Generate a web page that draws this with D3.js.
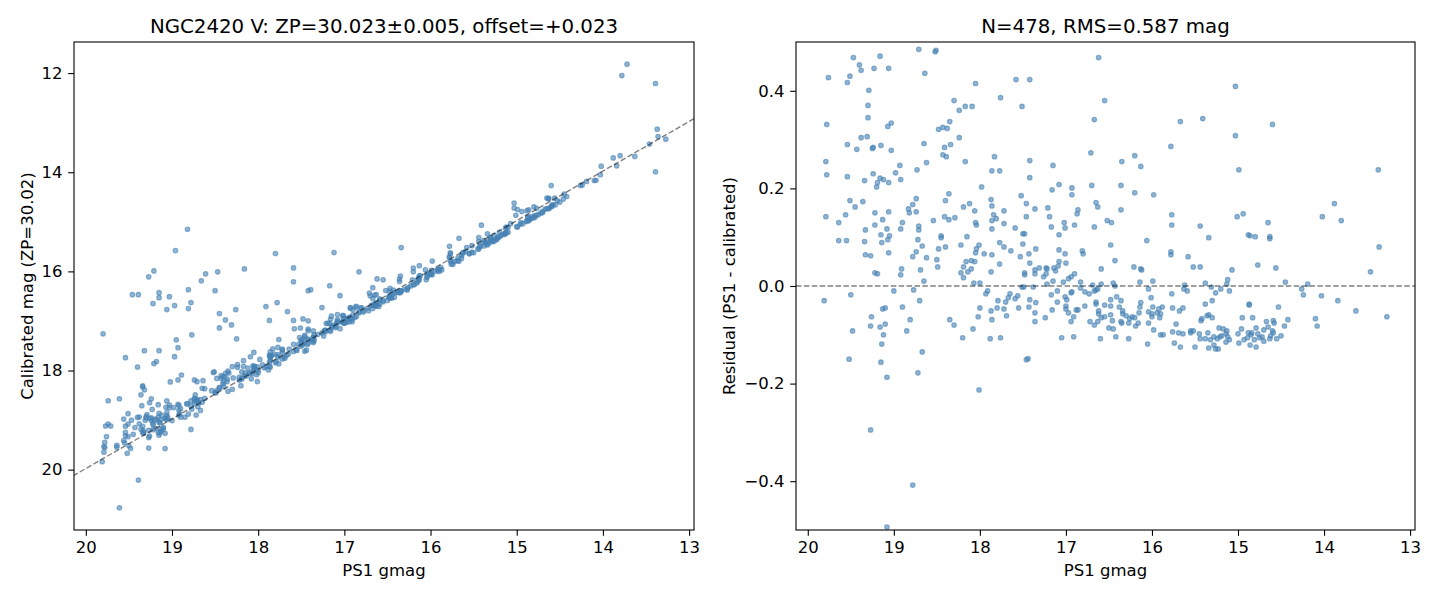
<!DOCTYPE html>
<html><head><meta charset="utf-8">
<script src="https://cdn.jsdelivr.net/npm/d3@7"></script>
<style>body{margin:0;background:#fff}svg text{font-family:"DejaVu Sans",sans-serif;fill:#000}</style>
</head><body><svg id="c" width="1440" height="600"></svg>
<script>
// ---- data: PS1 gmag and residual (PS1 - calibrated) per matched star ----
const gmag = [
18.71,18.52,18.51,19.47,19.16,19.40,19.38,19.23,19.06,19.76,
19.51,19.54,18.64,18.05,19.29,17.76,18.30,18.17,18.09,18.24,
19.30,19.30,19.78,19.03,19.07,18.35,18.48,18.43,18.38,18.24,
19.38,19.31,19.54,19.43,19.25,19.24,19.15,19.03,18.65,18.34,
18.41,18.43,18.39,19.79,18.62,18.17,17.83,19.78,19.54,19.34,
19.24,19.16,19.19,19.20,19.12,19.06,18.98,18.93,18.92,18.73,
17.86,17.77,17.98,18.36,18.40,18.74,18.78,18.83,18.82,18.74,
19.51,19.45,19.36,19.79,19.64,19.56,19.22,19.06,19.13,19.22,
19.33,19.08,19.15,19.05,19.07,19.14,19.34,19.64,19.55,18.90,
18.92,18.71,18.71,18.72,18.67,18.74,18.78,18.62,18.54,18.41,
18.36,18.29,18.19,18.12,18.06,18.05,18.04,18.45,18.45,18.40,
18.48,18.22,18.15,17.87,17.86,17.84,17.81,17.86,17.86,17.72,
17.72,17.77,17.72,18.01,18.04,18.05,17.95,17.86,18.06,18.10,
18.16,18.19,18.10,18.14,18.22,18.19,18.07,18.00,17.77,17.87,
18.50,18.49,18.69,18.65,18.91,18.92,19.22,19.19,19.33,19.27,
19.06,
19.81,19.50,19.00,18.77,18.70,18.90,19.13,19.10,19.26,19.27,
19.16,19.10,19.12,19.14,19.48,18.81,18.85,19.52,19.15,19.08,
18.67,18.72,19.27,18.78,19.08,18.35,18.30,18.20,18.08,18.02,
18.00,17.93,17.91,17.87,17.86,17.88,18.01,17.80,17.79,17.76,
17.72,
16.62,17.58,17.42,17.51,16.55,16.67,15.67,15.41,15.78,16.71,
17.42,17.15,16.35,16.20,16.13,17.42,17.16,17.08,16.93,16.93,
16.70,16.36,16.20,15.98,17.52,17.46,17.36,17.21,17.46,17.59,
17.19,17.17,17.02,17.01,16.87,16.86,16.90,16.65,16.63,16.67,
16.52,16.47,16.36,15.77,15.77,15.44,15.34,17.50,17.48,17.50,
17.64,17.53,17.43,17.35,17.08,17.08,17.01,16.81,16.80,16.48,
16.43,16.06,15.78,15.78,15.58,15.52,15.44,17.42,17.36,17.48,
17.48,17.36,17.31,17.23,17.22,17.14,17.12,17.09,17.08,17.00,
17.23,17.26,17.15,17.03,16.97,16.94,16.90,16.83,16.59,16.45,
16.21,16.13,16.12,16.14,15.99,15.62,15.38,17.51,17.38,16.69,
16.59,
17.49,17.22,16.83,16.93,16.94,16.78,16.73,16.67,16.65,16.63,
16.43,16.04,15.63,15.59,17.65,17.67,17.70,17.56,17.59,17.69,
17.55,17.42,17.43,17.35,17.36,17.36,17.24,17.17,17.10,17.10,
17.16,17.01,16.99,17.00,17.00,16.97,16.91,16.94,16.88,16.86,
16.78,17.05,16.91,17.46,17.44,16.72,16.67,16.63,16.65,16.65,
16.62,16.62,16.59,16.55,16.55,16.48,16.48,16.48,16.46,16.41,
16.36,16.38,16.34,16.34,16.36,16.35,16.50,16.45,16.60,16.42,
16.27,16.30,16.26,16.27,16.23,16.19,16.20,16.16,16.15,16.14,
16.13,16.04,16.04,16.05,15.98,16.01,15.99,16.00,16.00,15.94,
15.92,15.90,15.88,15.91,15.90,15.87,15.77,15.76,15.72,15.76,
15.74,15.67,15.68,15.64,15.69,15.64,15.55,15.52,15.55,15.50,
15.45,15.44,15.43,15.42,15.38,15.38,15.36,15.35,15.34,
15.03,14.60,15.03,14.99,13.37,13.88,15.01,14.94,14.02,13.80,
14.65,14.88,14.86,14.80,14.63,14.63,13.36,15.07,14.77,14.56,
13.46,15.12,15.13,14.45,14.19,15.31,15.20,14.26,
15.10,15.26,14.24,14.03,13.84,13.63,13.27,15.30,14.53,14.87,
14.87,15.34,15.30,14.95,14.83,14.67,14.59,14.58,14.42,14.46,
14.10,14.08,15.32,15.28,15.28,15.26,15.23,15.22,15.17,15.13,
15.14,15.19,15.21,15.12,15.10,15.14,15.24,15.00,14.99,14.96,
14.93,14.89,14.88,14.85,14.84,14.81,14.86,14.79,14.79,14.77,
14.75,14.72,14.70,14.70,14.65,14.62,14.63,14.60,14.59,14.55,
14.50,
18.82,18.96,17.80,19.27,19.21,19.46,19.39,19.15,19.15,19.22,
19.03,18.97,19.06,18.81,18.78,18.81,18.66,18.61,18.47,18.50,
18.16,18.26,18.45,18.38,18.31,18.45,18.25,17.91,17.78,17.87,
19.80,18.95,18.93,18.97,18.77,19.54,19.32,19.15,19.40,19.21,
19.18,18.89,18.93,19.02,18.74,19.34,19.34,19.32,19.36,19.74,
19.61,19.24,19.26,19.35,19.51,19.56,19.77,19.74,19.71,19.61,
19.39,17.12,17.59,17.59,16.83,16.34,17.42,17.39,17.17,17.05,
17.66,17.26,17.59,17.48,13.72,13.78,13.39,13.39
];
const residual = [
0.485,0.480,0.483,0.468,0.471,0.453,0.442,0.446,0.446,0.427,
0.430,0.417,0.436,0.415,0.401,0.386,0.380,0.368,0.368,0.360,
0.370,0.345,0.331,0.334,0.327,0.337,0.321,0.325,0.323,0.304,
0.304,0.306,0.290,0.280,0.282,0.284,0.288,0.278,0.292,0.290,
0.284,0.269,0.265,0.255,0.253,0.255,0.265,0.228,0.224,0.216,
0.230,0.221,0.212,0.203,0.218,0.212,0.232,0.247,0.218,0.238,
0.236,0.236,0.203,0.189,0.175,0.179,0.167,0.158,0.150,0.152,
0.175,0.162,0.173,0.142,0.130,0.146,0.150,0.152,0.136,0.125,
0.115,0.117,0.105,0.103,0.095,0.089,0.091,0.093,0.093,0.130,
0.117,0.123,0.115,0.095,0.082,0.070,0.060,0.058,0.134,0.142,
0.136,0.140,0.162,0.169,0.154,0.130,0.125,0.103,0.099,0.080,
0.076,0.084,0.101,0.177,0.164,0.146,0.138,0.134,0.117,0.154,
0.128,0.089,0.080,0.084,0.076,0.068,0.066,0.064,0.050,0.052,
0.050,0.039,0.035,0.029,0.027,0.017,0.006,0.006,0.045,0.029,
0.054,0.039,0.033,0.010,0.035,0.023,0.027,0.025,0.064,0.062,
0.068,
-0.030,-0.018,-0.010,-0.008,-0.030,-0.043,-0.047,-0.045,-0.063,-0.082,
-0.084,-0.078,-0.100,-0.119,-0.092,-0.069,-0.092,-0.150,-0.156,-0.187,
-0.135,-0.178,-0.295,-0.408,-0.494,-0.069,-0.080,-0.106,-0.088,-0.063,
-0.045,-0.016,-0.010,-0.051,-0.069,-0.108,-0.213,-0.045,-0.030,-0.106,
-0.047,
0.468,0.423,0.423,0.368,0.380,0.341,0.337,0.343,0.286,0.273,
0.257,0.247,0.255,0.267,0.245,0.222,0.197,0.208,0.201,0.187,
0.206,0.206,0.191,0.187,0.185,0.169,0.158,0.160,0.142,0.119,
0.142,0.121,0.130,0.119,0.148,0.156,0.125,0.171,0.162,0.121,
0.134,0.130,0.156,0.146,0.125,0.123,0.099,0.107,0.107,0.086,
0.072,0.060,0.066,0.076,0.105,0.074,0.066,0.072,0.066,0.084,
0.052,0.093,0.070,0.064,0.060,0.039,0.039,0.047,0.033,0.027,
0.023,0.025,0.037,0.037,0.035,0.037,0.031,0.041,0.050,0.047,
0.025,0.019,0.010,0.008,0.015,0.019,0.025,0.008,0.035,0.006,
0.039,0.035,0.033,0.008,0.010,0.002,0.006,-0.002,-0.002,0.002,
0.004,
-0.002,0.004,-0.004,-0.012,-0.014,-0.012,-0.016,-0.010,-0.008,-0.006,
0.000,-0.006,-0.006,-0.010,-0.016,-0.024,-0.033,-0.020,-0.026,-0.061,
-0.045,-0.028,-0.043,-0.034,-0.055,-0.073,-0.065,-0.018,-0.010,-0.033,
-0.049,-0.022,-0.028,-0.041,-0.047,-0.055,-0.063,-0.073,-0.049,-0.049,
-0.041,-0.106,-0.104,-0.151,-0.149,-0.073,-0.080,-0.073,-0.033,-0.037,
-0.051,-0.057,-0.065,-0.039,-0.063,-0.028,-0.041,-0.059,-0.071,-0.022,
-0.030,-0.043,-0.051,-0.057,-0.073,-0.076,-0.086,-0.088,-0.108,-0.104,
-0.108,-0.061,-0.067,-0.076,-0.063,-0.082,-0.065,-0.076,-0.055,-0.043,
-0.034,-0.053,-0.076,-0.119,-0.090,-0.024,-0.043,-0.057,-0.063,-0.055,
-0.047,-0.057,-0.043,-0.065,-0.100,-0.100,-0.016,-0.045,-0.078,-0.094,
-0.117,-0.125,-0.051,-0.045,-0.096,-0.098,-0.092,-0.092,-0.096,-0.125,
-0.098,-0.108,-0.071,-0.067,-0.037,-0.108,-0.061,-0.096,-0.127,
0.409,0.331,0.308,0.238,0.238,0.169,0.142,0.148,0.142,0.134,
0.130,0.105,0.103,0.101,0.101,0.097,0.080,0.033,0.043,0.037,
0.029,0.013,0.004,0.008,0.004,-0.002,-0.006,-0.006,
-0.010,-0.014,-0.018,-0.020,-0.030,-0.051,-0.063,-0.030,-0.043,-0.037,
-0.039,-0.059,-0.065,-0.065,-0.065,-0.073,-0.071,-0.076,-0.069,-0.082,
-0.067,-0.082,-0.110,-0.104,-0.121,-0.129,-0.129,-0.086,-0.088,-0.092,
-0.098,-0.102,-0.104,-0.104,-0.110,-0.115,-0.108,-0.098,-0.117,-0.088,
-0.110,-0.106,-0.096,-0.100,-0.096,-0.110,-0.121,-0.125,-0.086,-0.098,
-0.106,-0.104,-0.113,-0.090,-0.084,-0.102,-0.108,-0.092,-0.096,-0.108,
-0.102,
3.67,3.38,2.16,3.16,3.22,2.99,2.92,2.72,2.62,2.57,
2.52,2.28,2.29,2.44,2.15,2.06,2.47,2.56,2.46,2.11,
2.21,1.49,1.60,1.40,1.23,1.31,0.89,1.20,1.15,0.88,
2.54,1.57,1.39,1.25,1.49,1.80,1.72,1.55,1.47,1.35,
1.36,0.80,0.74,0.79,0.55,1.03,1.01,0.93,0.87,1.13,
1.04,0.67,0.61,0.64,0.64,0.58,0.65,0.66,0.59,-1.16,
-0.82,1.50,1.66,1.38,0.82,0.82,1.03,1.02,0.88,0.56,
0.85,0.53,0.60,0.52,1.90,1.73,1.18,-0.60
];
const zeroPoint = 30.023, zpErr = 0.005, offset = 0.023;
const nStars = 478, rms = 0.587;
const xTickValues = [20, 19, 18, 17, 16, 15, 14, 13];
const calTickValues = [12, 14, 16, 18, 20];
const resTickValues = [0.4, 0.2, 0.0, -0.2, -0.4];
const resLimits = [-0.5, 0.5];
const titleLeft = `NGC2420 V: ZP=${zeroPoint.toFixed(3)}±${zpErr.toFixed(3)}, offset=+${offset.toFixed(3)}`;
const titleRight = `N=${nStars}, RMS=${rms.toFixed(3)} mag`;
const xLabel = "PS1 gmag";
const yLabelLeft = "Calibrated mag (ZP=30.02)";
const yLabelRight = "Residual (PS1 - calibrated)";

// ---- drawing ----
const svg = d3.select("#c");
svg.append("rect").attr("width", 1440).attr("height", 600).attr("fill", "#fff");
const TOP = 42, BOT = 530;
const L = {x0: 74, x1: 694}, R = {x0: 796, x1: 1415};
const FS_TICK = "16.5px", FS_TITLE = "19.8px";
const stars = gmag.map((g, i) => ({g, r: residual[i], cal: g - residual[i]}));
const padExt = e => { const s = e[1] - e[0]; return [e[0] - 0.05 * s, e[1] + 0.05 * s]; };
const gx = padExt(d3.extent(gmag));
const cy = padExt(d3.extent(stars, d => d.cal));
const xL = d3.scaleLinear().domain([gx[1], gx[0]]).range([L.x0, L.x1]);
const xR = d3.scaleLinear().domain([gx[1], gx[0]]).range([R.x0, R.x1]);
const yL = d3.scaleLinear().domain([cy[0], cy[1]]).range([TOP, BOT]);
const yR = d3.scaleLinear().domain(resLimits).range([BOT, TOP]);

const defs = svg.append("defs");
[["clipL", L], ["clipR", R]].forEach(([id, p]) => {
  defs.append("clipPath").attr("id", id).append("rect")
    .attr("x", p.x0).attr("y", TOP).attr("width", p.x1 - p.x0).attr("height", BOT - TOP);
});

const dotStyle = sel => sel.attr("r", 2.3).attr("fill", "#4682b4").attr("fill-opacity", 0.6)
  .attr("stroke", "#4682b4").attr("stroke-opacity", 0.6).attr("stroke-width", 1.1);

const gL = svg.append("g").attr("clip-path", "url(#clipL)");
gL.selectAll("circle").data(stars).join("circle")
  .attr("cx", d => xL(d.g)).attr("cy", d => yL(d.cal)).call(dotStyle);
const diag = gx.map(v => [xL(v), yL(v - offset)]);
gL.append("path").attr("d", d3.line()(diag)).attr("fill", "none")
  .attr("stroke", "#000").attr("stroke-opacity", 0.5).attr("stroke-width", 1.4)
  .attr("stroke-dasharray", "5.5,2.4");

const gR = svg.append("g").attr("clip-path", "url(#clipR)");
gR.selectAll("circle").data(stars).join("circle")
  .attr("cx", d => xR(d.g)).attr("cy", d => yR(d.r)).call(dotStyle);
gR.append("line").attr("x1", R.x0).attr("x2", R.x1).attr("y1", yR(0)).attr("y2", yR(0))
  .attr("stroke", "#000").attr("stroke-opacity", 0.5).attr("stroke-width", 1.4)
  .attr("stroke-dasharray", "5.5,2.4");

function styleAxis(g) {
  g.select(".domain").remove();
  g.selectAll(".tick line").attr("stroke", "#000").attr("stroke-width", 1.1);
  g.selectAll(".tick text").attr("font-size", FS_TICK).attr("font-family", "DejaVu Sans").attr("fill", "#000");
}
const fmtInt = d3.format("d"), fmtRes = d3.format(".1f");
[xL, xR].forEach(x => {
  svg.append("g").attr("transform", `translate(0,${BOT})`)
    .call(d3.axisBottom(x).tickValues(xTickValues).tickFormat(fmtInt).tickSize(5.8).tickPadding(5.2).tickSizeOuter(0))
    .call(styleAxis);
});
svg.append("g").attr("transform", `translate(${L.x0},0)`)
  .call(d3.axisLeft(yL).tickValues(calTickValues).tickFormat(fmtInt).tickSize(5.8).tickPadding(5.6).tickSizeOuter(0))
  .call(styleAxis);
svg.append("g").attr("transform", `translate(${R.x0},0)`)
  .call(d3.axisLeft(yR).tickValues(resTickValues).tickFormat(fmtRes).tickSize(5.8).tickPadding(5.6).tickSizeOuter(0))
  .call(styleAxis);

[L, R].forEach(p => {
  svg.append("rect").attr("x", p.x0).attr("y", TOP).attr("width", p.x1 - p.x0).attr("height", BOT - TOP)
    .attr("fill", "none").attr("stroke", "#000").attr("stroke-width", 1.1);
});

const txt = (x, y, s, size, rot) => {
  const t = svg.append("text").attr("x", x).attr("y", y).attr("text-anchor", "middle")
    .attr("font-size", size).text(s);
  if (rot) t.attr("transform", `rotate(-90,${x},${y})`);
  return t;
};
txt((L.x0 + L.x1) / 2, 33, titleLeft, FS_TITLE);
txt((R.x0 + R.x1) / 2, 33, titleRight, FS_TITLE);
txt((L.x0 + L.x1) / 2, 576, xLabel, FS_TICK);
txt((R.x0 + R.x1) / 2, 576, xLabel, FS_TICK);
txt(33, (TOP + BOT) / 2, yLabelLeft, FS_TICK, true);
txt(735, (TOP + BOT) / 2, yLabelRight, FS_TICK, true);
</script></body></html>
